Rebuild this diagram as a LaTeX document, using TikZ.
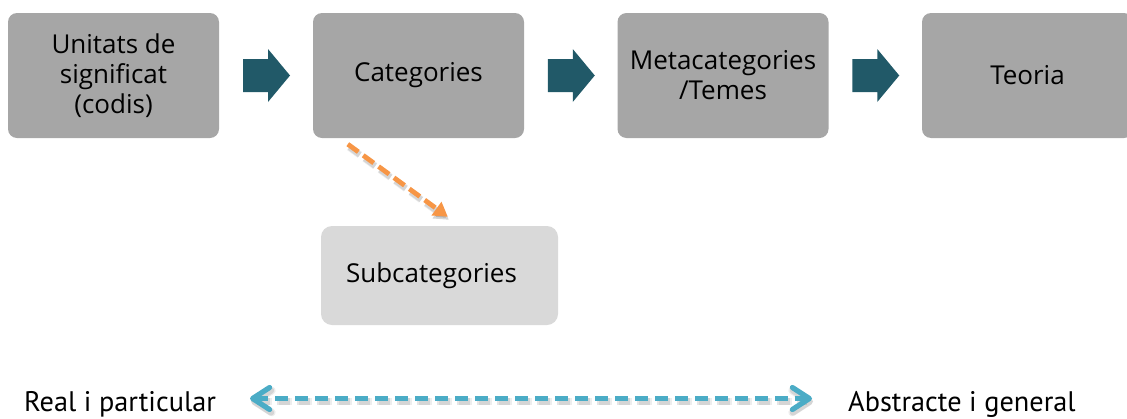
\documentclass[tikz,border=0pt]{standalone}
\usepackage{fontspec}
\setmainfont{Open Sans}
\newfontfamily\scalefont{PT Sans}
\usetikzlibrary{arrows.meta,calc}
\definecolor{boxgrey}{HTML}{A6A6A6}
\definecolor{subgrey}{HTML}{D9D9D9}
\definecolor{steparrow}{RGB}{33,89,104}
\definecolor{orangeline}{HTML}{F79646}
\definecolor{blueline}{HTML}{4BACC6}
% block arrow centred in the gap between two stage boxes
\newcommand{\stagearrow}[2]{%
  \fill[steparrow] ($(#1.east)!0.5!(#2.west)$) ++(-23,-16.5) -- ++(25,0) -- ++(0,-10)
    -- ++(22,26.5) -- ++(-22,26.5) -- ++(0,-10) -- ++(-25,0) -- cycle;}
\begin{document}
\begin{tikzpicture}[x=1pt,y=-1pt,
  stage/.style={fill=boxgrey, rounded corners=9pt, minimum width=211pt,
    minimum height=125pt, inner sep=0pt, align=center,
    font=\fontsize{26}{30}\selectfont},
  subbox/.style={fill=subgrey, rounded corners=11pt, minimum width=237pt,
    minimum height=99pt, inner sep=0pt},
  boxtext/.style={inner sep=0pt, font=\fontsize{26}{30}\selectfont},
  endlabel/.style={inner sep=0pt, anchor=base west, font=\scalefont\fontsize{28.3}{32}\selectfont},
  orange link/.style={line width=4.8pt, dash pattern=on 13pt off 6pt,
    -{Triangle[length=14pt,width=16pt]}},
  scale link/.style={line width=5.2pt, dash pattern=on 13pt off 7pt,
    {Straight Barb[length=17pt,width=22pt,round]}-{Straight Barb[length=17pt,width=22pt,round]}},
  soft shadow/.style={black, opacity=#1},
  soft shadow/.default=0.08]
\useasboundingbox (0,0) rectangle (1127,418);
\clip (0,0) rectangle (1127,418);

% stage boxes
\node[stage] (b1) at (113.5,75.5) {Unitats de\\significat\\(codis)};
\node[stage] (b2) at (418.5,75.5) {Categories};
\node[stage] (b3) at (723,75.5) {Metacategories\\/Temes};
\node[stage] (b4) at (1027.5,75.5) {Teoria};

\stagearrow{b1}{b2}
\stagearrow{b2}{b3}
\stagearrow{b3}{b4}

% sub-level box
\node[subbox] (sub) at (439.5,275.5) {};
\node[boxtext] (subt) at ($(sub.center)+(-8,0)$) {Subcategories};

% dashed link from Categories down to Subcategories
\foreach \w/\o in {2.5/0.07,1/0.1} {
  \draw[soft shadow=\o, orange link, line width=4.8pt+\w pt]
    ($(b2.south west)+(36.5,9)$) -- ($(sub.north west)+(128,-6)$);
}
\draw[orangeline, orange link]
  ($(b2.south west)+(35,6)$) -- ($(sub.north west)+(127,-9)$);

% scale from concrete to abstract
\node[endlabel] (real) at (24,411) {Real i particular};
\node[endlabel] (abs) at (848,411) {Abstracte i general};
\coordinate (lend) at (250,398.5);
\coordinate (rend) at (812,398.5);
\foreach \w/\o in {2.5/0.07,1/0.1} {
  \draw[soft shadow=\o, scale link, line width=5.2pt+\w pt]
    ($(lend)+(1,3)$) -- ($(rend)+(1,3)$);
}
\draw[blueline, scale link] (lend) -- (rend);
\end{tikzpicture}
\end{document}
